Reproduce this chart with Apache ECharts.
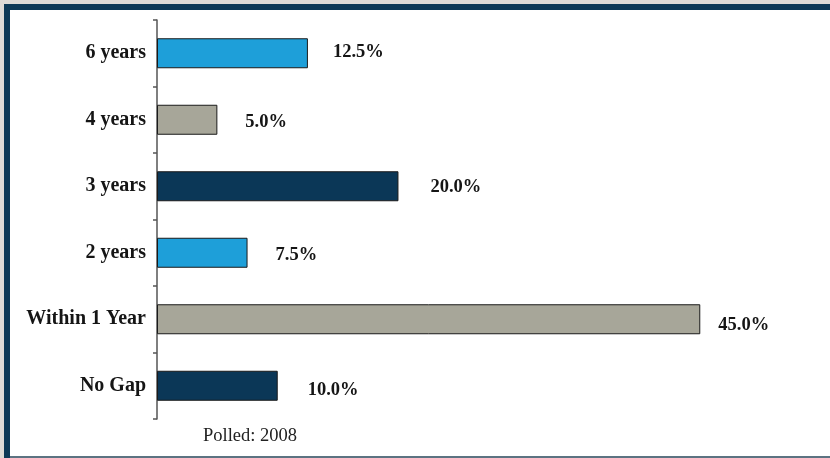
<!DOCTYPE html>
<html>
<head>
<meta charset="utf-8">
<script src="https://cdn.jsdelivr.net/npm/echarts@6/dist/echarts.min.js"></script>
<style>
html,body{margin:0;padding:0;background:#dddcd6;}
#chart{width:830px;height:458px;}
</style>
</head>
<body>
<div id="chart"></div>
<script>
const categories = ["6 years", "4 years", "3 years", "2 years", "Within 1 Year", "No Gap"];
const values = [12.5, 5.0, 20.0, 7.5, 45.0, 10.0];
const barColors = ["#1e9fd9", "#a7a699", "#0b3757", "#1e9fd9", "#a7a699", "#0b3757"];
const labelOffsets = [[0, -1], [3, 2], [7, 1], [3, 2], [-7, 6], [5, 4]];
const footnote = "Polled: 2008";

const chart = echarts.init(document.getElementById('chart'), null, {renderer: 'canvas'});
const serif = '"Liberation Serif", "Times New Roman", serif';

chart.setOption({
  backgroundColor: 'transparent',
  animation: false,
  graphic: [
    {type: 'rect', shape: {x: 4, y: 4, width: 830, height: 460}, style: {fill: '#0c3a56'}, z: -10},
    {type: 'rect', shape: {x: 10, y: 10, width: 830, height: 446}, style: {fill: '#ffffff'}, z: -9},
    {type: 'rect', shape: {x: 10, y: 456, width: 830, height: 3}, style: {fill: '#5c7382'}, z: -9},
    {type: 'text', left: 203, top: 427, style: {text: footnote, font: '18.5px ' + serif, fill: '#222'}}
  ],
  grid: {left: 157, top: 20, bottom: 39, right: 9, containLabel: false},
  xAxis: {type: 'value', min: 0, max: 55, show: false},
  yAxis: {
    type: 'category',
    data: categories,
    inverse: true,
    axisLine: {show: true, lineStyle: {color: '#555', width: 1.5}},
    axisTick: {show: true, length: 4, lineStyle: {color: '#555', width: 1.5}},
    axisLabel: {color: '#151515', fontFamily: serif, fontWeight: 'bold', fontSize: 20, margin: 11}
  },
  series: [{
    type: 'bar',
    barWidth: 30,
    data: values.map((v, i) => ({
      value: v,
      itemStyle: {color: barColors[i]},
      label: {offset: labelOffsets[i]}
    })),
    itemStyle: {borderColor: '#1a1a1a', borderWidth: 1},
    label: {
      show: true,
      position: 'right',
      distance: 25,
      color: '#151515',
      fontFamily: serif,
      fontWeight: 'bold',
      fontSize: 18.5,
      formatter: p => p.value.toFixed(1) + '%'
    }
  }]
});
</script>
</body>
</html>
